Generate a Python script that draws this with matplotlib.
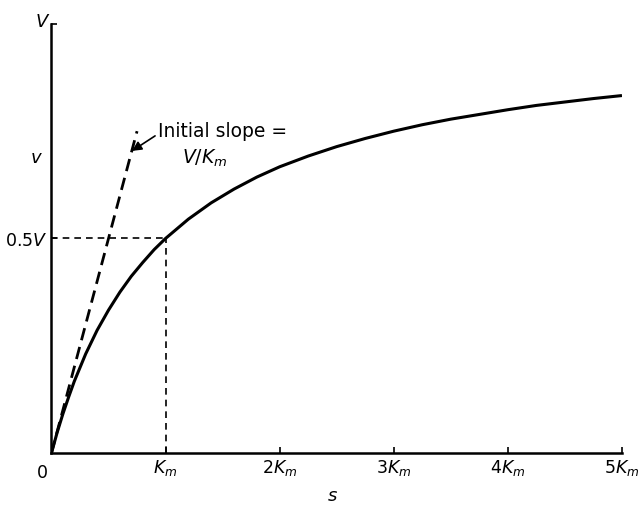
import matplotlib.pyplot as plt

# substrate concentration s (in units of Km) and rate v (in units of V)
s = [0, 0.05, 0.1, 0.15, 0.2, 0.3, 0.4, 0.5, 0.6, 0.7, 0.8, 0.9, 1.0, 1.2, 1.4, 1.6, 1.8, 2.0,
     2.25, 2.5, 2.75, 3.0, 3.25, 3.5, 3.75, 4.0, 4.25, 4.5, 4.75, 5.0]
v = [0, 0.048, 0.091, 0.130, 0.167, 0.231, 0.286, 0.333, 0.375, 0.412, 0.444, 0.474, 0.5, 0.545,
     0.583, 0.615, 0.643, 0.667, 0.692, 0.714, 0.733, 0.75, 0.765, 0.778, 0.789, 0.8, 0.81, 0.818,
     0.826, 0.833]

# initial slope line (V/Km) from the origin
slope_s = [0, 0.75]
slope_v = [0, 0.75]

xtick_pos = [1, 2, 3, 4, 5]
xtick_lab = ['$K_m$', '$2K_m$', '$3K_m$', '$4K_m$', '$5K_m$']
ytick_pos = [0.5, 1.0]
ytick_lab = ['0.5$V$', '']

plt.rcParams['mathtext.fontset'] = 'dejavusans'
fig = plt.figure(figsize=(6.41, 5.06), dpi=100)
ax = fig.add_axes([0.0803, 0.1028, 0.89, 0.848])

ax.plot(s, v, color='black', lw=2.2, solid_capstyle='butt')
ax.plot(slope_s, slope_v, color='black', lw=2.0, ls=(0, (4.5, 2.5)))
ax.plot([0, 1], [0.5, 0.5], color='black', lw=1.2, ls=(0, (4, 3)))
ax.plot([1, 1], [0, 0.5], color='black', lw=1.2, ls=(0, (4, 3)))

ax.set_xlim(0, 5)
ax.set_ylim(0, 1)
ax.spines['top'].set_visible(False)
ax.spines['right'].set_visible(False)
ax.spines['left'].set_linewidth(1.8)
ax.spines['bottom'].set_linewidth(1.8)
ax.set_xticks(xtick_pos)
ax.set_xticklabels(xtick_lab, fontsize=12.5)
ax.set_yticks(ytick_pos)
ax.set_yticklabels(ytick_lab, fontsize=12.5)
ax.tick_params(direction='in', length=4, width=1.2, pad=3)

ax.text(-0.075, 1.007, '$V$', fontsize=13, ha='center', va='center')
ax.text(-0.08, -0.045, '0', fontsize=12.5, ha='center', va='center')
ax.text(-0.13, 0.69, '$v$', fontsize=13, ha='center', va='center')
ax.text(2.465, -0.098, '$s$', fontsize=13, ha='center', va='center')

ax.annotate('', xy=(0.706, 0.704), xytext=(0.908, 0.739),
            arrowprops=dict(arrowstyle='-|>', color='black', lw=1.2,
                            shrinkA=0, shrinkB=0, mutation_scale=14))
ax.text(0.93, 0.751, 'Initial slope =', fontsize=13.5, ha='left', va='center')
ax.text(1.145, 0.69, '$V/K_m$', fontsize=13.5, ha='left', va='center')

plt.savefig('out.png', dpi=100)
